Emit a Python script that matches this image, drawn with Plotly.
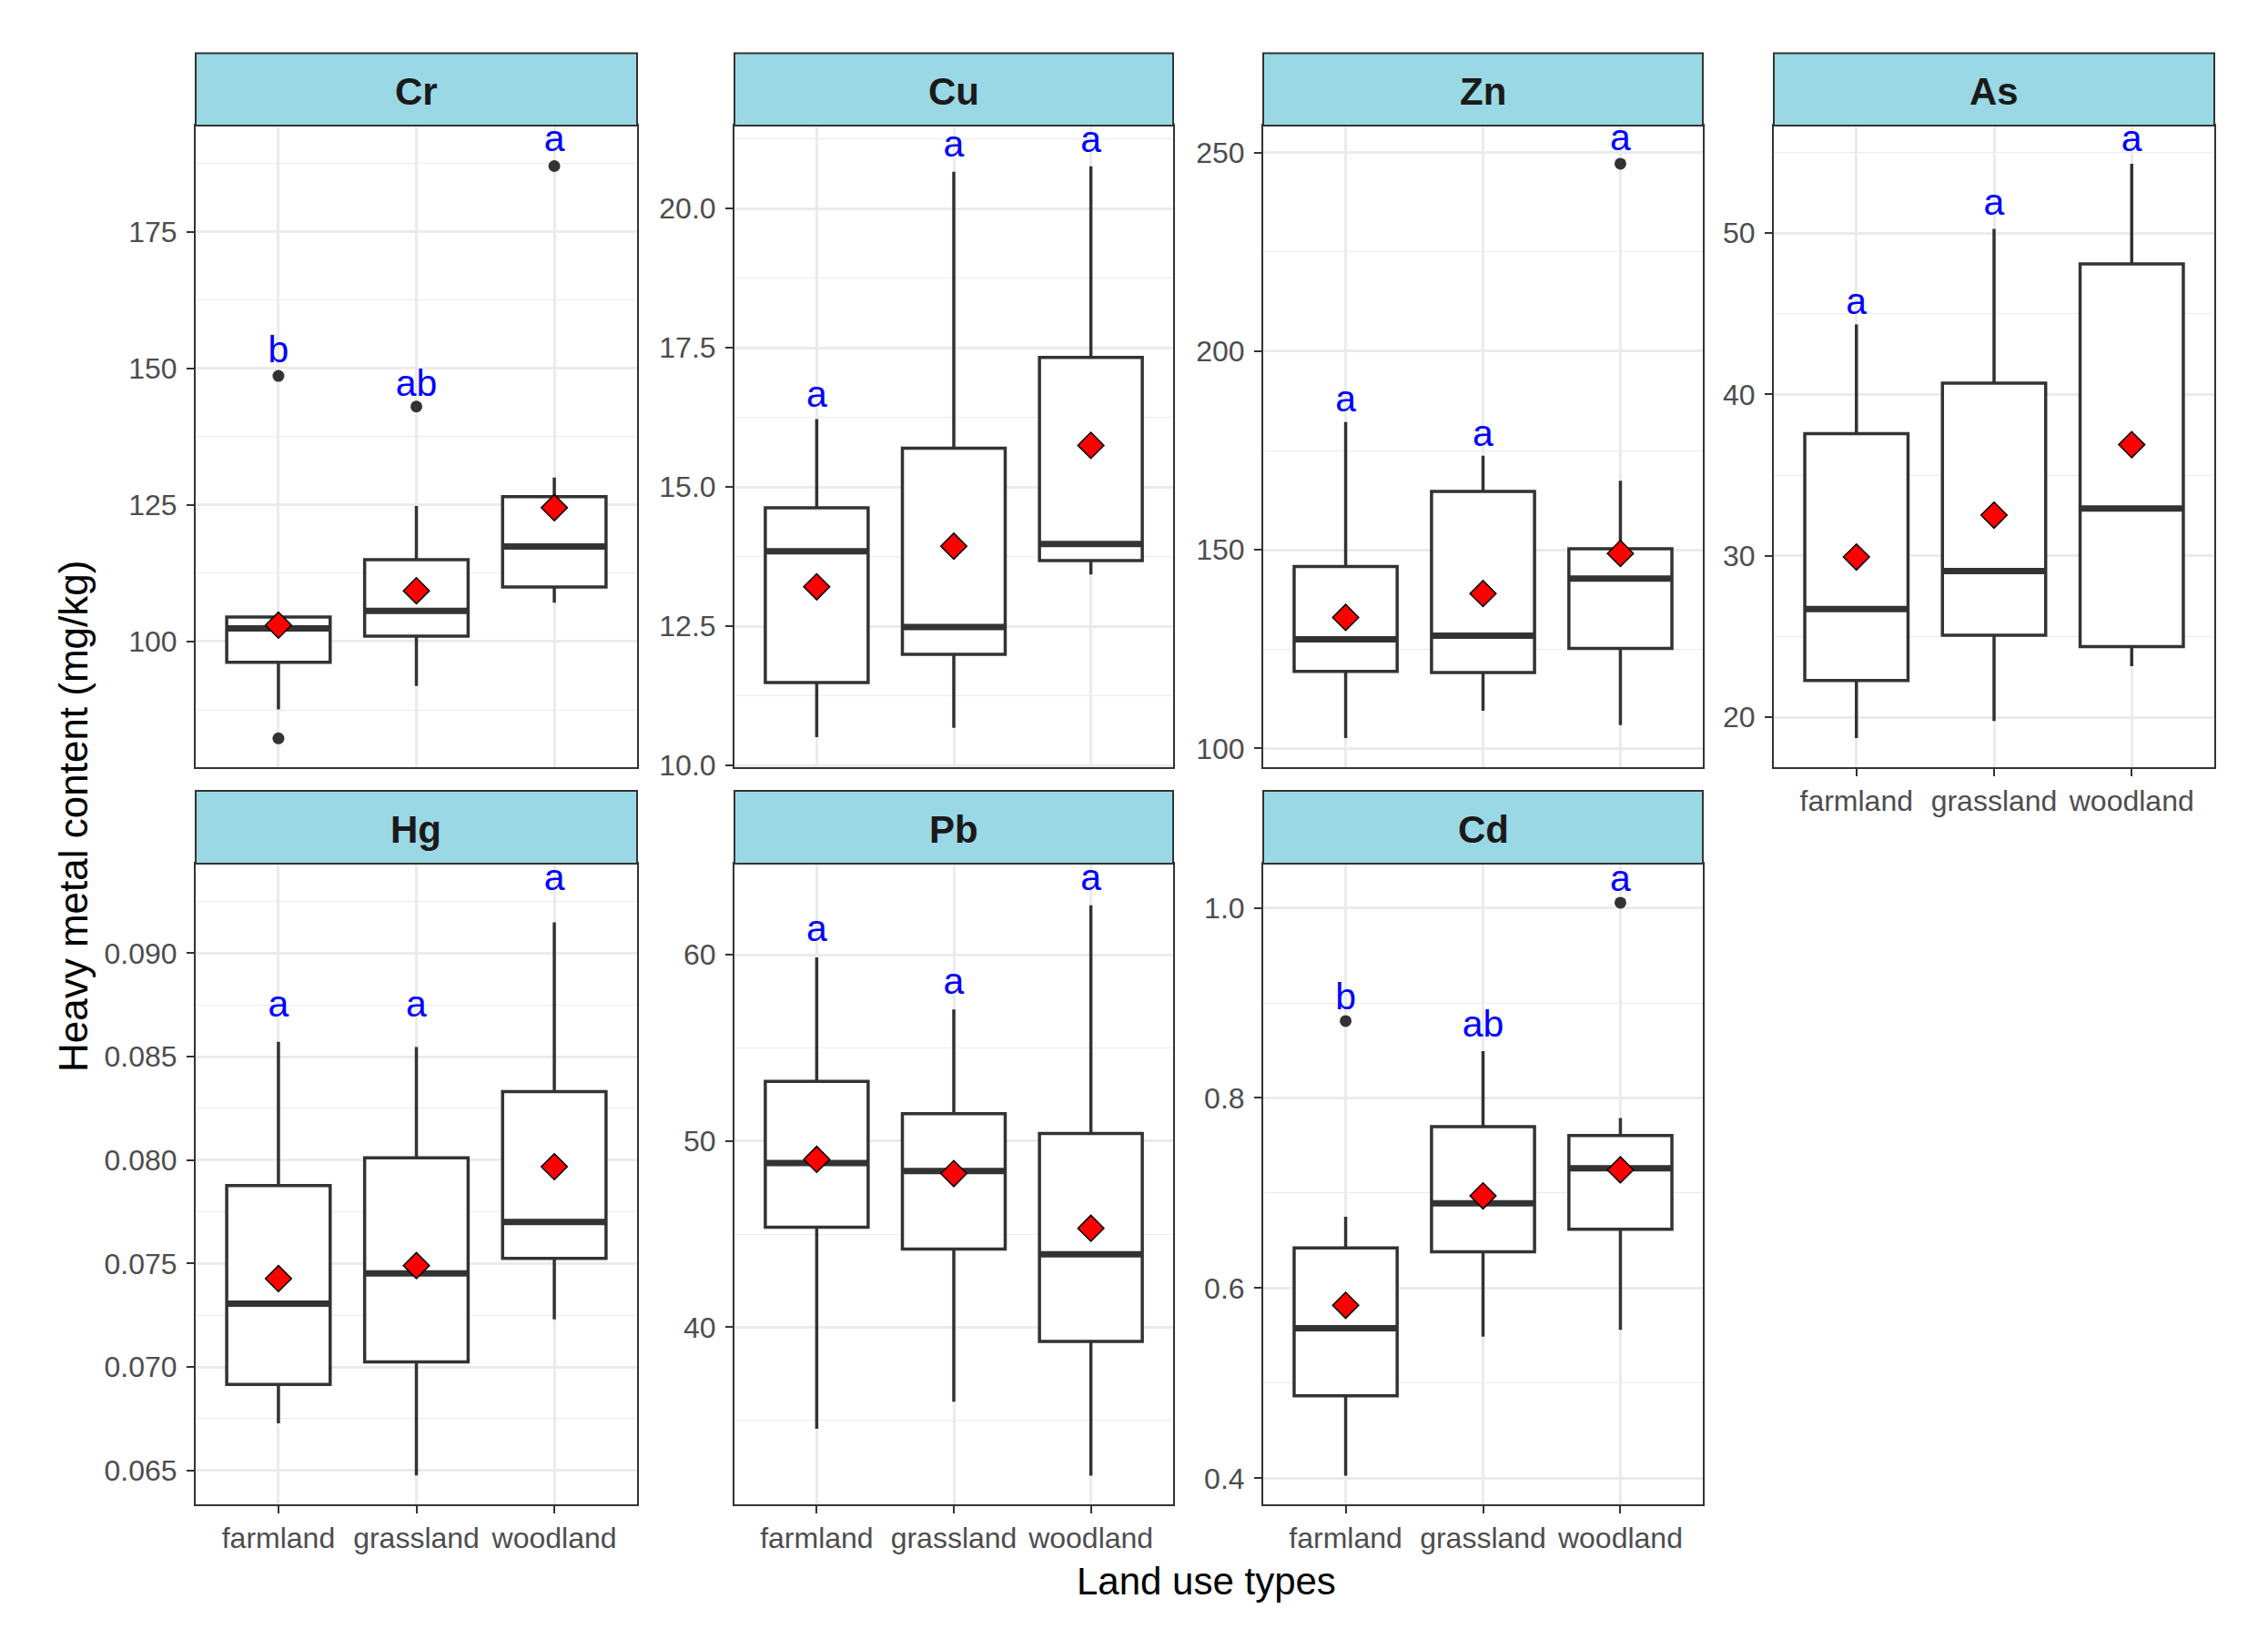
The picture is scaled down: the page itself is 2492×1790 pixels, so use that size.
import plotly.graph_objects as go

# ---- data ----
metals = ["Cr", "Cu", "Zn", "As", "Hg", "Pb", "Cd"]
land_use = ["farmland", "grassland", "woodland"]

q1 = [[96.2, 101.0, 110.0], [11.49, 12.00, 13.68], [119.4, 119.1, 125.2],
      [22.27, 25.08, 24.37], [0.06915, 0.07024, 0.07525], [45.37, 44.20, 39.24],
      [0.4866, 0.6383, 0.6619]]
median = [[102.4, 105.6, 117.4], [13.85, 12.49, 13.98], [127.5, 128.4, 142.8],
          [26.70, 29.06, 32.94], [0.07306, 0.07452, 0.07701], [48.81, 48.39, 43.92],
          [0.5578, 0.6893, 0.7260]]
q3 = [[104.5, 115.0, 126.5], [14.63, 15.70, 17.33], [145.8, 164.7, 150.3],
      [37.57, 40.71, 48.09], [0.07877, 0.08011, 0.08331], [53.20, 51.47, 50.40],
      [0.6422, 0.7698, 0.7605]]
whisker_low = [[87.6, 91.9, 107.1], [10.51, 10.68, 13.43], [102.6, 109.5, 105.9],
               [18.71, 19.77, 23.17], [0.06727, 0.06475, 0.07230], [34.55, 36.00, 32.03],
               [0.4027, 0.5490, 0.5562]]
whisker_high = [[104.5, 124.8, 130.0], [16.22, 20.66, 20.76], [182.2, 173.7, 167.4],
                [44.34, 50.26, 54.30], [0.08572, 0.08547, 0.09149], [59.86, 57.06, 62.66],
                [0.6750, 0.8493, 0.7790]]
means = [[103.0, 109.3, 124.5], [13.21, 13.94, 15.75], [133.0, 139.0, 149.1],
         [29.93, 32.52, 36.89], [0.07427, 0.07490, 0.07968], [49.01, 48.25, 45.31],
         [0.5819, 0.6970, 0.7244]]
outliers = [[[82.3, 148.6], [143.0], [187.0]], [[], [], []], [[], [], [247.2]],
            [[], [], []], [[], [], []], [[], [], []], [[0.881], [], [1.0054]]]
letters = [["b", "ab", "a"], ["a", "a", "a"], ["a", "a", "a"], ["a", "a", "a"],
           ["a", "a", "a"], ["a", "a", "a"], ["b", "ab", "a"]]
letter_y = [[152.8, 146.7, 191.4], [16.61, 21.10, 21.19], [187.2, 178.6, 253.0],
            [45.56, 51.71, 55.66], [0.08741, 0.08741, 0.09350], [61.26, 58.38, 63.97],
            [0.903, 0.874, 1.028]]

# axis settings per panel
y_ranges = [[77.1, 194.4], [9.98, 21.49], [95.4, 256.8], [16.93, 56.66],
            [0.06336, 0.09433], [30.49, 64.89], [0.3726, 1.0465]]
y_dtick = [25, 2.5, 50, 10, 0.005, 10, 0.2]
y_fmt = ["d", ".1f", "d", "d", ".3f", "d", ".1f"]

# ---- layout geometry (pixels in the 2492x1790 page) ----
PAGE_W, PAGE_H = 2492, 1790
OFF = 8       # default body margin of the html page
VS = 1.0096   # small vertical correction found by comparing renders
W, H = PAGE_W - 2 * OFF, PAGE_H - 2 * OFF
cols_px = [(215, 700), (807, 1289), (1388, 1871), (1949, 2433)]
rows_px = [(138, 842.5), (949, 1653)]
strips_px = [(58.5, 138), (869, 949)]
with_xlabels = [False, False, False, True, True, True, True]


def fx(p):
    return (p - OFF) / W


def fy(p):
    return 1 - (p * VS - OFF) / H


FONT = "Liberation Sans, Arial, sans-serif"
DARK = "#333333"
GRID = "#EBEBEB"
BOX_W = 0.75

fig = go.Figure()
shapes, annotations = [], []

for k, metal in enumerate(metals):
    r, c = divmod(k, 4)
    n = k + 1
    xa, ya = ("x" if n == 1 else f"x{n}"), ("y" if n == 1 else f"y{n}")
    xs = list(range(len(land_use)))

    fig.add_trace(go.Box(
        x=xs, q1=q1[k], median=median[k], q3=q3[k],
        lowerfence=whisker_low[k], upperfence=whisker_high[k],
        width=BOX_W, whiskerwidth=0, boxpoints=False,
        fillcolor="white", line=dict(color=DARK, width=3.5),
        xaxis=xa, yaxis=ya, showlegend=False, hoverinfo="skip"))

    # thicker median bar like ggplot
    mx, my = [], []
    for i, m in enumerate(median[k]):
        mx += [i - BOX_W / 2, i + BOX_W / 2, None]
        my += [m, m, None]
    fig.add_trace(go.Scatter(x=mx, y=my, mode="lines",
                             line=dict(color=DARK, width=7),
                             xaxis=xa, yaxis=ya, showlegend=False, hoverinfo="skip"))

    ox, oy = [], []
    for i, vals in enumerate(outliers[k]):
        ox += [i] * len(vals)
        oy += vals
    if ox:
        fig.add_trace(go.Scatter(x=ox, y=oy, mode="markers",
                                 marker=dict(color=DARK, size=13),
                                 xaxis=xa, yaxis=ya, showlegend=False, hoverinfo="skip"))

    fig.add_trace(go.Scatter(x=xs, y=means[k], mode="markers",
                             marker=dict(symbol="diamond", size=22, color="red",
                                         line=dict(color="black", width=1.5)),
                             xaxis=xa, yaxis=ya, showlegend=False, hoverinfo="skip"))

    fig.add_trace(go.Scatter(x=xs, y=letter_y[k], mode="text", text=letters[k],
                             textposition="middle center",
                             textfont=dict(color="blue", size=41, family=FONT),
                             xaxis=xa, yaxis=ya, showlegend=False, hoverinfo="skip"))

    x0, x1 = cols_px[c]
    y0, y1 = rows_px[r]
    s0, s1 = strips_px[r]
    fig.update_layout(**{
        ("xaxis" if n == 1 else f"xaxis{n}"): dict(
            domain=[fx(x0), fx(x1)], anchor=ya, range=[-0.6, 2.6],
            tickvals=xs, ticktext=land_use, showticklabels=with_xlabels[k],
            ticks="outside" if with_xlabels[k] else "", ticklen=8, tickwidth=2,
            tickcolor=DARK, tickfont=dict(size=32, color="#4D4D4D", family=FONT),
            showgrid=True, gridcolor=GRID, gridwidth=2.5, zeroline=False,
            showline=True, mirror=True, linecolor=DARK, linewidth=2),
        ("yaxis" if n == 1 else f"yaxis{n}"): dict(
            domain=[fy(y1), fy(y0)], anchor=xa, range=y_ranges[k],
            dtick=y_dtick[k], tick0=0, tickformat=y_fmt[k],
            ticks="outside", ticklen=8, tickwidth=2, tickcolor=DARK,
            tickfont=dict(size=32, color="#4D4D4D", family=FONT),
            ticklabelstandoff=4,
            showgrid=True, gridcolor=GRID, gridwidth=2.5, zeroline=False,
            minor=dict(dtick=y_dtick[k] / 2, showgrid=True, gridcolor=GRID,
                       gridwidth=1.2, ticks=""),
            showline=True, mirror=True, linecolor=DARK, linewidth=2),
    })

    # facet strip
    shapes.append(dict(type="rect", xref="paper", yref="paper",
                       x0=fx(x0), x1=fx(x1), y0=fy(s1), y1=fy(s0),
                       fillcolor="#9AD8E5", line=dict(color=DARK, width=2)))
    annotations.append(dict(text=f"<b>{metal}</b>", xref="paper", yref="paper",
                            x=fx((x0 + x1) / 2), y=fy((s0 + s1) / 2 + 2),
                            showarrow=False, xanchor="center", yanchor="middle",
                            font=dict(size=42, color="#1A1A1A", family=FONT)))

annotations.append(dict(text="Land use types", xref="paper", yref="paper",
                        x=fx(1325), y=fy(1738), showarrow=False,
                        xanchor="center", yanchor="middle",
                        font=dict(size=42, color="black", family=FONT)))
annotations.append(dict(text="Heavy metal content (mg/kg)", xref="paper", yref="paper",
                        x=fx(80), y=fy(897), showarrow=False, textangle=-90,
                        xanchor="center", yanchor="middle",
                        font=dict(size=44, color="black", family=FONT)))

fig.update_layout(
    width=W, height=H, margin=dict(l=0, r=0, t=0, b=0),
    paper_bgcolor="white", plot_bgcolor="white",
    shapes=shapes, annotations=annotations, boxmode="overlay",
    font=dict(family=FONT),
)

fig.write_html("out.html")
